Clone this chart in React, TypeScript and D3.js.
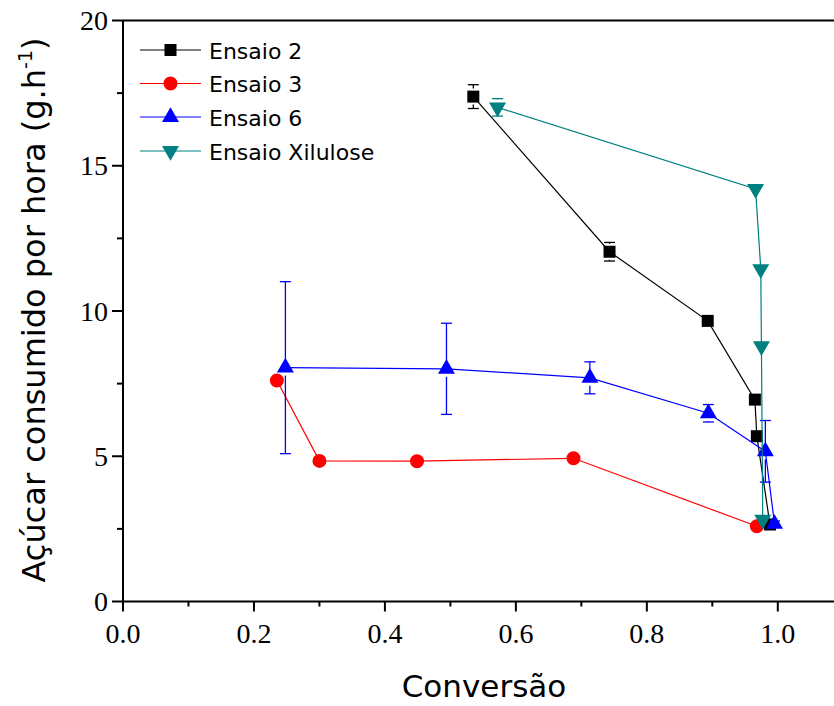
import React from "react";
import * as d3 from "d3";

// ---- data ----
const seriesNames = ["Ensaio 2", "Ensaio 3", "Ensaio 6", "Ensaio Xilulose"];

const e2X = [0.535, 0.743, 0.893, 0.965, 0.968, 0.988];
const e2Y = [17.38, 12.04, 9.66, 6.95, 5.69, 2.65];
const e2Err = [0.41, 0.32, 0.15, 0.15, 0.15, 0.1];

const e3X = [0.235, 0.3, 0.449, 0.688, 0.968];
const e3Y = [7.61, 4.84, 4.83, 4.93, 2.59];
const e3Err = [0, 0, 0, 0, 0];

const e6X = [0.248, 0.494, 0.713, 0.894, 0.981, 0.995];
const e6Y = [8.05, 8.01, 7.7, 6.48, 5.17, 2.67];
const e6Err = [2.96, 1.57, 0.55, 0.3, 1.06, 0.1];

const exX = [0.572, 0.966, 0.974, 0.975, 0.977];
const exY = [17.01, 14.2, 11.44, 8.79, 2.82];
const exErr = [0.3, 0, 0, 0, 0];

const xTicks = [0, 0.2, 0.4, 0.6, 0.8, 1.0];
const xMinor = [0.1, 0.3, 0.5, 0.7, 0.9, 1.1];
const yTicks = [0, 5, 10, 15, 20];
const yMinor = [2.5, 7.5, 12.5, 17.5];

const xTitle = "Conversão";
const yTitleMain = "Açúcar consumido por hora (g.h";
const yTitleSup = "-1";

// ---- style ----
const W = 834;
const H = 706;
const colors = ["#000000", "#ff0000", "#0000ff", "#008080"];
const shapes = ["square", "circle", "up", "down"];

const x = d3.scaleLinear().domain([0, 1.1]).range([123, 123 + 1.1 * 654.8]);
const y = d3.scaleLinear().domain([0, 20]).range([601.5, 20.5]);

const series = [
  { xs: e2X, ys: e2Y, err: e2Err },
  { xs: e3X, ys: e3Y, err: e3Err },
  { xs: e6X, ys: e6Y, err: e6Err },
  { xs: exX, ys: exY, err: exErr },
].map((s, i) => ({
  ...s,
  name: seriesNames[i],
  color: colors[i],
  shape: shapes[i],
  pts: s.xs.map((v, j) => ({ x: v, y: s.ys[j], e: s.err[j] })),
}));

function symbolPath(shape: string) {
  if (shape === "square") return d3.symbol(d3.symbolSquare, 144)();
  if (shape === "circle") return d3.symbol(d3.symbolCircle, 154)();
  return d3.symbol(d3.symbolTriangle, 125)();
}

function Marker({ shape, color, cx, cy }: any) {
  const rot = shape === "down" ? 180 : 0;
  return (
    <path
      d={symbolPath(shape) as string}
      fill={color}
      transform={`translate(${cx},${cy}) rotate(${rot})`}
    />
  );
}

const line = d3
  .line<{ x: number; y: number }>()
  .x((d) => x(d.x))
  .y((d) => y(d.y));

const serifFont = "'Liberation Serif', 'Times New Roman', serif";
const sansFont = "'DejaVu Sans', Verdana, sans-serif";

export default function App() {
  const legendRows = [50, 83.5, 117, 151];
  return (
    <svg
      width={W}
      height={H}
      style={{ position: "absolute", left: 0, top: 0, background: "#fff" }}
    >
      <rect width={W} height={H} fill="#fff" />
      {/* frame */}
      <line x1={x(0)} x2={W} y1={y(20)} y2={y(20)} stroke="#000" strokeWidth={2} />
      <line x1={x(0)} x2={x(0)} y1={y(0) + 0} y2={y(20)} stroke="#000" strokeWidth={2} />
      <line x1={x(0) - 1} x2={W} y1={y(0)} y2={y(0)} stroke="#000" strokeWidth={2} />

      {/* x ticks */}
      {xTicks.map((t) => (
        <g key={"xt" + t}>
          <line x1={x(t)} x2={x(t)} y1={y(0)} y2={y(0) + 10} stroke="#000" strokeWidth={2} />
          <text
            x={x(t)}
            y={643}
            textAnchor="middle"
            fontFamily={serifFont}
            fontSize={28}
            fill="#000"
          >
            {d3.format(".1f")(t)}
          </text>
        </g>
      ))}
      {xMinor.map((t) => (
        <line key={"xm" + t} x1={x(t)} x2={x(t)} y1={y(0)} y2={y(0) + 5} stroke="#000" strokeWidth={2} />
      ))}
      {/* y ticks */}
      {yTicks.map((t) => (
        <g key={"yt" + t}>
          <line x1={x(0) - 11} x2={x(0)} y1={y(t)} y2={y(t)} stroke="#000" strokeWidth={2} />
          <text
            x={108}
            y={y(t) + 9.5}
            textAnchor="end"
            fontFamily={serifFont}
            fontSize={28}
            fill="#000"
          >
            {t}
          </text>
        </g>
      ))}
      {yMinor.map((t) => (
        <line key={"ym" + t} x1={x(0) - 6} x2={x(0)} y1={y(t)} y2={y(t)} stroke="#000" strokeWidth={2} />
      ))}

      {/* series */}
      {series.map((s) => (
        <g key={s.name}>
          <path d={line(s.pts) as string} fill="none" stroke={s.color} strokeWidth={1.2} />
          {s.pts
            .filter((p) => p.e > 0)
            .map((p, j) => {
              const cx = x(p.x);
              const cy = y(p.y);
              const top = y(p.y + p.e);
              const bot = y(p.y - p.e);
              const gap = 8;
              return (
                <g key={"e" + j} stroke={s.color} strokeWidth={1.3}>
                  {cy - top > gap && <line x1={cx} x2={cx} y1={cy - gap} y2={top} />}
                  {bot - cy > gap && <line x1={cx} x2={cx} y1={cy + gap} y2={bot} />}
                  <line x1={cx - 5.5} x2={cx + 5.5} y1={top} y2={top} />
                  <line x1={cx - 5.5} x2={cx + 5.5} y1={bot} y2={bot} />
                </g>
              );
            })}
          {s.pts.map((p, j) => (
            <Marker key={"m" + j} shape={s.shape} color={s.color} cx={x(p.x)} cy={y(p.y)} />
          ))}
        </g>
      ))}

      {/* legend */}
      {series.map((s, i) => (
        <g key={"lg" + i}>
          <line x1={140} x2={201} y1={legendRows[i]} y2={legendRows[i]} stroke={s.color} strokeWidth={1.2} />
          <Marker shape={s.shape} color={s.color} cx={170.5} cy={legendRows[i]} />
          <text
            x={209}
            y={legendRows[i] + 8.5}
            fontFamily={sansFont}
            fontSize={22}
            fill="#000"
          >
            {s.name}
          </text>
        </g>
      ))}

      {/* axis titles */}
      <text
        x={484}
        y={697}
        textAnchor="middle"
        fontFamily={sansFont}
        fontSize={31}
        fill="#000"
      >
        {xTitle}
      </text>
      <text
        transform={`translate(45,${310}) rotate(-90)`}
        textAnchor="middle"
        fontFamily={sansFont}
        fontSize={32}
        fill="#000"
      >
        {yTitleMain}
        <tspan dy={-13} fontSize={19}>
          {yTitleSup}
        </tspan>
        <tspan dy={13}>)</tspan>
      </text>
    </svg>
  );
}
